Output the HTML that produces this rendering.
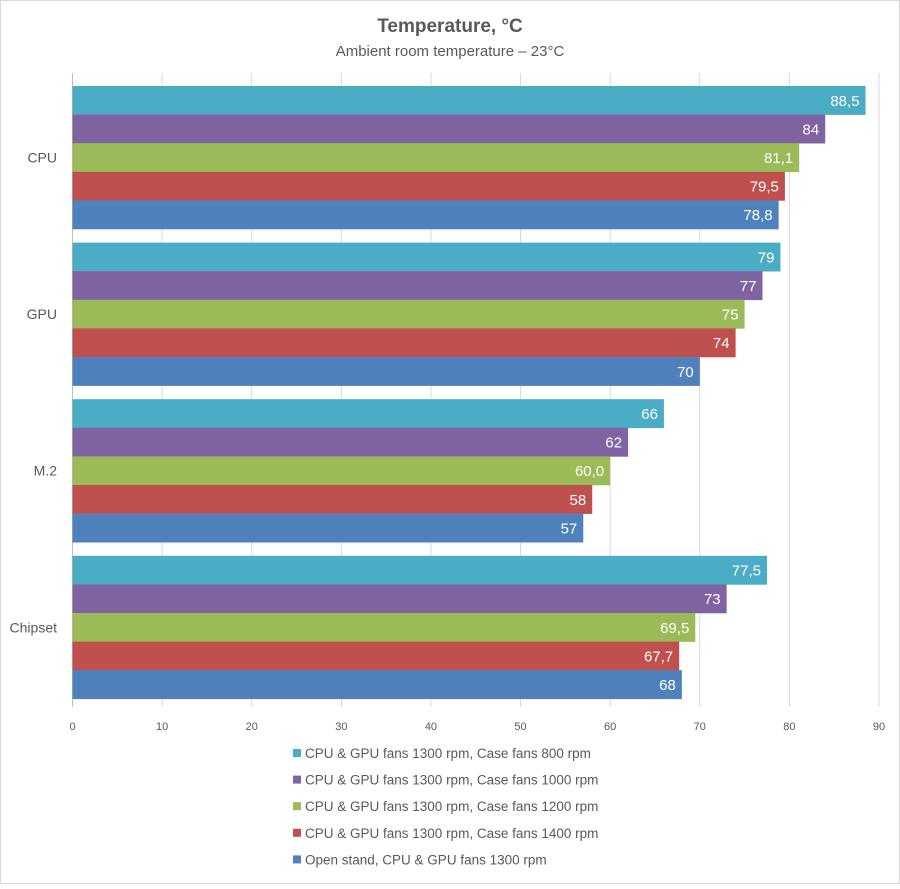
<!DOCTYPE html>
<html><head><meta charset="utf-8"><style>
body{margin:0;background:#fff;font-family:"Liberation Sans",sans-serif;}
svg text{font-family:"Liberation Sans",sans-serif;}
</style></head><body>
<svg width="900" height="884" xmlns="http://www.w3.org/2000/svg">
<rect x="0.5" y="0.5" width="899" height="883" fill="#fff" stroke="#d9d9d9"/>
<text x="450" y="32" text-anchor="middle" font-size="19" font-weight="bold" fill="#595959">Temperature, °C</text>
<text x="450" y="56" text-anchor="middle" font-size="15" fill="#595959">Ambient room temperature – 23°C</text>
<g id="grid"></g><g id="bars"></g><g id="labels"></g><g id="legend"></g>
</svg>
<script>
const categories=["CPU","GPU","M.2","Chipset"];
const seriesNames=["CPU & GPU fans 1300 rpm, Case fans 800 rpm","CPU & GPU fans 1300 rpm, Case fans 1000 rpm","CPU & GPU fans 1300 rpm, Case fans 1200 rpm","CPU & GPU fans 1300 rpm, Case fans 1400 rpm","Open stand, CPU & GPU fans 1300 rpm"];
const s800=[88.5,79,66,77.5];
const s1000=[84,77,62,73];
const s1200=[81.1,75,60.0,69.5];
const s1400=[79.5,74,58,67.7];
const sOpen=[78.8,70,57,68];
const labels800=["88,5","79","66","77,5"];
const labels1000=["84","77","62","73"];
const labels1200=["81,1","75","60,0","69,5"];
const labels1400=["79,5","74","58","67,7"];
const labelsOpen=["78,8","70","57","68"];
const ticks=[0,10,20,30,40,50,60,70,80,90];
const series=[s800,s1000,s1200,s1400,sOpen];
const slabels=[labels800,labels1000,labels1200,labels1400,labelsOpen];
const colors=["#4bacc6","#8064a2","#9bbb59","#c0504d","#4f81bd"];
const NS="http://www.w3.org/2000/svg";
const x0=72.5,x1=879,xmax=90;
const xs=v=>x0+v/xmax*(x1-x0);
const groupTop=i=>86+i*156.6;
const barH=28.6;
function mk(t,a,p){const e=document.createElementNS(NS,t);for(const k in a)e.setAttribute(k,a[k]);p.appendChild(e);return e;}
const grid=document.getElementById('grid'),bars=document.getElementById('bars'),lab=document.getElementById('labels'),leg=document.getElementById('legend');
ticks.forEach(t=>{
  const l=mk('line',{x1:xs(t),x2:xs(t),y1:73,y2:707,stroke:'#d9d9d9','stroke-width':1},grid);
  
  
  const tx=mk('text',{x:xs(t),y:730,'text-anchor':'middle','font-size':11,fill:'#595959'},grid);
  tx.textContent=t;
  
  
});
categories.forEach((c,i)=>{
  const ct=mk('text',{x:57,y:groupTop(i)+barH*2.5+5,'text-anchor':'end','font-size':14,fill:'#595959'},lab);
  ct.textContent=c;
  
  
  series.forEach((s,j)=>{
    const y=groupTop(i)+j*barH;
    const r=mk('rect',{x:x0,y:y,width:xs(s[i])-x0,height:barH+0.3,fill:colors[j]},bars);
    
    
    const t=mk('text',{x:xs(s[i])-6,y:y+barH/2+5.5,'text-anchor':'end','font-size':15,fill:'#fff'},lab);
    t.textContent=slabels[j][i];
    
    
  });
});
mk('line',{x1:x0,x2:x0,y1:73,y2:707,stroke:'#bfbfbf'},grid);
seriesNames.forEach((n,j)=>{
  const y=754+j*26.6;
  const g=mk('g',{},leg);
  
  
  mk('rect',{x:293,y:y-5,width:8,height:8,fill:colors[j]},g);
  const t=mk('text',{x:305,y:y+4,'font-size':13.5,fill:'#595959'},g);
  t.textContent=n;
});
</script>
</body></html>
